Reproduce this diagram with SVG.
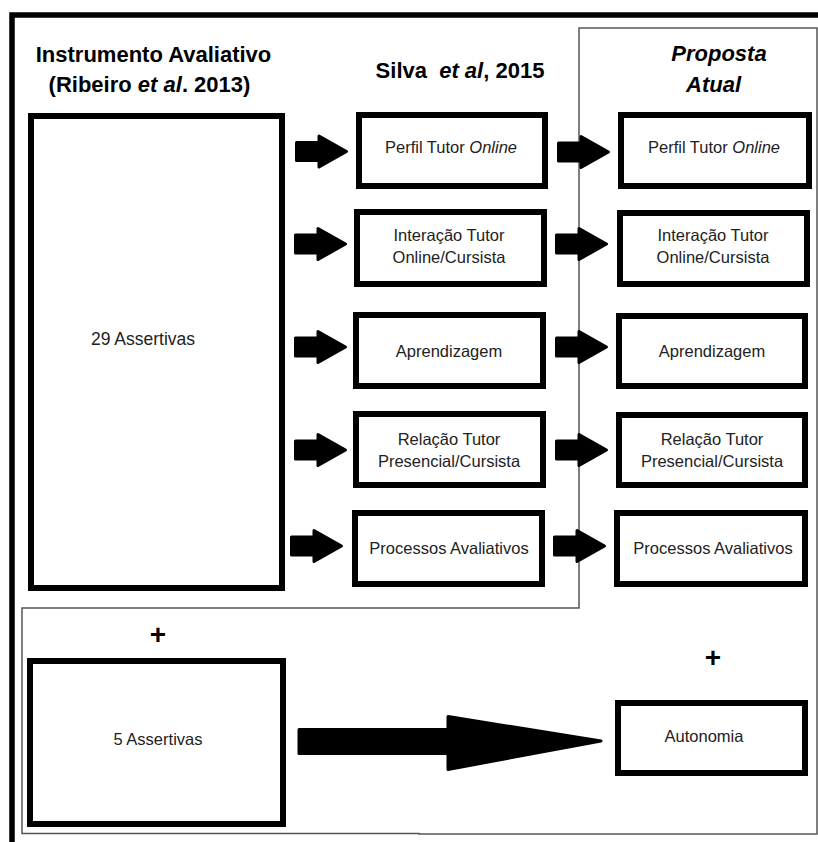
<svg xmlns="http://www.w3.org/2000/svg" width="818" height="842" viewBox="0 0 818 842">
<style>
.box{fill:#fff;stroke:#000;stroke-width:6}
.thin{fill:none;stroke:#555;stroke-width:1.5}
.frame{fill:none;stroke:#000;stroke-width:5.5}
.arr{fill:#000;stroke:#000;stroke-width:3;stroke-linejoin:round}
.h{font-family:"Liberation Sans",Arial,sans-serif;font-weight:bold;font-size:22px;fill:#000;text-anchor:middle}
.t{font-family:"Liberation Sans",Arial,sans-serif;font-size:16.5px;fill:#222;text-anchor:middle}
.plus{font-family:"Liberation Sans",Arial,sans-serif;font-weight:bold;font-size:28px;fill:#000;text-anchor:middle}
</style>
<defs>
<path id="sa" d="M-51.5,-9 H-29 V-15.5 L-1.5,0 L-29,15.5 V9 H-51.5 Z"/>
</defs>
<rect width="818" height="842" fill="#fff"/>
<path class="frame" d="M12,842 V15 H818"/>
<path class="thin" d="M579,28 H817 V834 H419 V833.5 H22 V608 H579 Z"/>
<g id="headings">
<text class="h" x="153.5" y="62">Instrumento Avaliativo</text>
<text class="h" x="149.5" y="92">(Ribeiro <tspan font-style="italic">et al</tspan>. 2013)</text>
<text class="h" x="460" y="78">Silva&#160; <tspan font-style="italic">et al</tspan>, 2015</text>
<text class="h" x="719" y="61" font-style="italic">Proposta</text>
<text class="h" x="713.5" y="92" font-style="italic">Atual</text>
</g>
<g id="n29"><rect class="box" x="31" y="116" width="251" height="472"/><text class="t" x="143" y="345" style="font-size:17.5px">29 Assertivas</text></g>
<g id="n5"><rect class="box" x="30" y="661" width="253" height="163"/><text class="t" x="158" y="745">5 Assertivas</text></g>
<g id="s1"><rect class="box" x="359" y="115" width="186" height="71"/><text class="t" x="451" y="153">Perfil Tutor <tspan font-style="italic">Online</tspan></text></g>
<g id="s2"><rect class="box" x="357" y="212" width="187" height="72"/><text class="t" x="449" y="241">Interação Tutor</text><text class="t" x="449" y="263">Online/Cursista</text></g>
<g id="s3"><rect class="box" x="356" y="315" width="187" height="71"/><text class="t" x="449" y="357">Aprendizagem</text></g>
<g id="s4"><rect class="box" x="356" y="414" width="187" height="71"/><text class="t" x="449" y="445">Relação Tutor</text><text class="t" x="449" y="467">Presencial/Cursista</text></g>
<g id="s5"><rect class="box" x="355" y="513" width="187" height="71"/><text class="t" x="449" y="554">Processos Avaliativos</text></g>
<g id="p1"><rect class="box" x="621" y="115" width="188" height="71"/><text class="t" x="714" y="153">Perfil Tutor <tspan font-style="italic">Online</tspan></text></g>
<g id="p2"><rect class="box" x="620" y="213" width="187" height="71"/><text class="t" x="713" y="241">Interação Tutor</text><text class="t" x="713" y="263">Online/Cursista</text></g>
<g id="p3"><rect class="box" x="619" y="316" width="186" height="70"/><text class="t" x="712" y="357">Aprendizagem</text></g>
<g id="p4"><rect class="box" x="619" y="415" width="186" height="70"/><text class="t" x="712" y="445">Relação Tutor</text><text class="t" x="712" y="467">Presencial/Cursista</text></g>
<g id="p5"><rect class="box" x="617" y="513" width="188" height="71"/><text class="t" x="713" y="554">Processos Avaliativos</text></g>
<g id="p6"><rect class="box" x="618" y="703" width="187" height="70"/><text class="t" x="704" y="742">Autonomia</text></g>
<g id="plus">
<text class="plus" x="158" y="644">+</text>
<text class="plus" x="713" y="667">+</text>
</g>
<g id="connectors">
<use href="#sa" class="arr" x="348" y="151.5"/>
<use href="#sa" class="arr" x="347" y="244"/>
<use href="#sa" class="arr" x="347" y="347"/>
<use href="#sa" class="arr" x="347" y="450"/>
<use href="#sa" class="arr" x="343" y="546"/>
<use href="#sa" class="arr" x="610" y="152"/>
<use href="#sa" class="arr" x="608" y="244"/>
<use href="#sa" class="arr" x="608" y="347"/>
<use href="#sa" class="arr" x="608" y="450"/>
<use href="#sa" class="arr" x="606" y="546"/>
<path class="arr" d="M299,729.5 H448 V716.5 L601,741 L448,769.5 V753.5 H299 Z"/>
</g>
</svg>
